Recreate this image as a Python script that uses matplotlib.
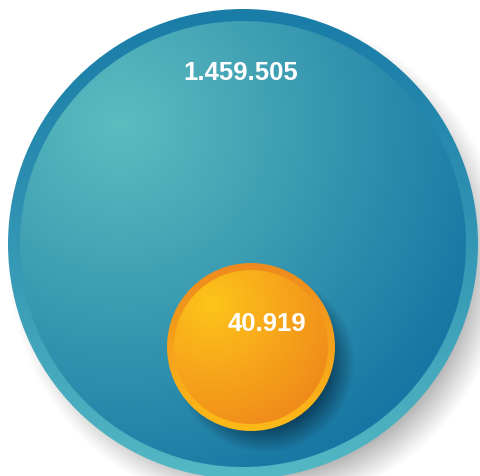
import numpy as np
import matplotlib
matplotlib.use("Agg")
import matplotlib.pyplot as plt
from matplotlib.patches import Circle
from matplotlib.colors import to_rgb

# ---- data ----
labels = ["Total", "Subset"]
values = [1459505, 40919]
value_text = [f"{v:,}".replace(",", ".") for v in values]

W, H = 480, 477
fig = plt.figure(figsize=(W / 100, H / 100), dpi=100)
ax = fig.add_axes([0, 0, 1, 1])
ax.set_xlim(0, W)
ax.set_ylim(H, 0)
ax.set_aspect("equal")
ax.axis("off")

yy, xx = np.mgrid[0:H, 0:W] + 0.5


def lerp(c1, c2, t):
    c1 = np.array(to_rgb(c1)); c2 = np.array(to_rgb(c2))
    t = np.clip(t, 0, 1)[..., None]
    return c1 * (1 - t) + c2 * t


def show(img, clip=None, z=1):
    im = ax.imshow(img, extent=(0, W, H, 0), interpolation="bilinear", zorder=z)
    if clip is not None:
        im.set_clip_path(clip)
    return im


# geometry (style)
big_c, big_R, big_ring = (243, 245), 235, 12
sm_c, sm_R, sm_ring = (251, 348), 84, 7

# big circle shadow
d = np.hypot(xx - (big_c[0] + 14), yy - (big_c[1] + 18))
a = np.clip((big_R + 14 - d) / 50, 0, 1) ** 1.1 * 0.7
sh = np.zeros((H, W, 4)); sh[..., :3] = 0.42; sh[..., 3] = a
show(sh, z=1)

# big ring
ring_patch = Circle(big_c, big_R, transform=ax.transData, facecolor="none", edgecolor="none")
ax.add_patch(ring_patch)
t = (yy - (big_c[1] - big_R)) / (2 * big_R)
show(lerp("#1a7da8", "#55b8c4", t ** 1.2), clip=ring_patch, z=2)

# big inner disc
inner_patch = Circle(big_c, big_R - big_ring, transform=ax.transData, facecolor="none", edgecolor="none")
ax.add_patch(inner_patch)
d = np.hypot(xx - 120, yy - 125)
show(lerp("#5cbdbf", "#1776a3", d / 390), clip=inner_patch, z=3)

# small circle shadow (clipped to inner disc)
d = np.hypot(xx - (sm_c[0] + 14), yy - (sm_c[1] + 16))
a = np.clip((sm_R + 6 - d) / 26, 0, 1) * 0.7
sh2 = np.zeros((H, W, 4)); sh2[..., 0] = 0.02; sh2[..., 1] = 0.16; sh2[..., 2] = 0.26; sh2[..., 3] = a
show(sh2, clip=inner_patch, z=4)

# small ring
sring = Circle(sm_c, sm_R, transform=ax.transData, facecolor="none", edgecolor="none")
ax.add_patch(sring)
t = (yy - (sm_c[1] - sm_R)) / (2 * sm_R)
show(lerp("#ee8a1e", "#fdba18", t), clip=sring, z=5)

# small inner disc
sinner = Circle(sm_c, sm_R - sm_ring, transform=ax.transData, facecolor="none", edgecolor="none")
ax.add_patch(sinner)
d = np.hypot(xx - 212, yy - 305)
show(lerp("#fdc41a", "#ef841a", d / 150), clip=sinner, z=6)

font = ["Liberation Sans", "DejaVu Sans"]
ax.text(241, 73, value_text[0], color="white", fontsize=18.5, fontweight="bold",
        family=font, ha="center", va="center", zorder=10)
ax.text(267, 324, value_text[1], color="white", fontsize=18.5, fontweight="bold",
        family=font, ha="center", va="center", zorder=10)

fig.savefig("out.png", dpi=100)
